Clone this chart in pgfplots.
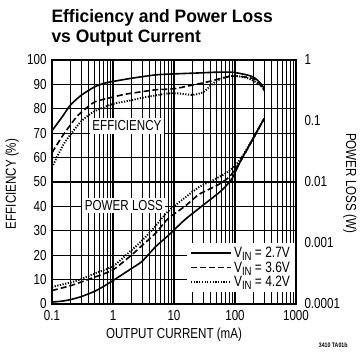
\documentclass[border=0pt]{standalone}
\usepackage{fontspec}
\setmainfont{Liberation Sans}[FakeStretch=0.8]
\newfontfamily\titlefont{Liberation Sans}[FakeStretch=0.97]
\usepackage{pgfplots}
\pgfplotsset{compat=1.18}
\newcommand{\vin}[1]{V\raisebox{-3pt}{\fontsize{12}{12}\selectfont IN} = #1}
\begin{document}
\begin{tikzpicture}
\pgfplotsset{
  solidL/.style={black, line width=1.6pt},
  dashL/.style={black, line width=1.6pt, dash pattern=on 6pt off 3pt},
  dotL/.style={black, line width=1.9pt, dash pattern=on 1.2pt off 1.5pt},
}
\begin{axis}[name=ax, at={(0,0)}, anchor=south west, scale only axis,
  width=244pt, height=244pt,
  xmode=log, xmin=0.1, xmax=1000, ymin=0, ymax=100,
  xtick={0.1,1,10,100,1000}, xticklabels={0.1,1,10,100,1000},
  ytick={0,10,20,30,40,50,60,70,80,90,100},
  yticklabels={0,10,20,30,40,50,60,70,80,90,100},
  xmajorgrids, xminorgrids, ymajorgrids,
  major grid style={black, line width=1.1pt},
  minor grid style={black, line width=1.1pt},
  major tick length=0pt, minor tick length=0pt,
  axis line style={black, line width=1.2pt},
  ticklabel style={font=\fontsize{14.5}{14.5}\selectfont},
  xticklabel style={yshift=-3pt},
  yticklabel style={xshift=-2pt},
]
\addplot[solidL, smooth, tension=0.4] coordinates {(0.1,71)(0.15,77)(0.2,81.5)(0.3,85.5)(0.5,89)(0.75,90.6)(1,91.2)(2,92.5)(5,93.9)(10,94.3)(26,94.7)(50,95)(90,95)(150,94)(200,93)(250,91)(300,88.5)};
\addplot[dashL, smooth, tension=0.4] coordinates {(0.1,62)(0.15,69)(0.24,76)(0.3,78.5)(0.5,82.8)(1,84.8)(1.6,86)(3,87)(5,87.8)(10,88.2)(16,89.2)(35,91)(60,92.5)(92,93.4)(150,93)(200,92.3)(250,90.5)(300,87.5)};
\addplot[dotL, smooth, tension=0.4] coordinates {(0.1,56)(0.16,66)(0.3,74.8)(0.5,79)(1,82)(1.6,83)(3,84.5)(5,85.5)(8,86.3)(12,86.3)(20,85.7)(30,86.8)(47,91)(70,93)(100,93.5)(150,92.8)(200,91.5)(250,90)(300,88)};
\end{axis}
\begin{axis}[at={(0,0)}, anchor=south west, scale only axis,
  width=244pt, height=244pt,
  xmode=log, ymode=log, xmin=0.1, xmax=1000, ymin=1e-4, ymax=1,
  axis x line=none, axis y line*=right,
  ytick={1e-4,1e-3,1e-2,1e-1,1},
  yticklabels={0.0001,0.001,0.01,0.1,1},
  major tick length=0pt, minor tick length=0pt,
  axis line style={black, line width=1.2pt},
  ticklabel style={font=\fontsize{14.5}{14.5}\selectfont},
  yticklabel style={xshift=5pt},
  legend style={at={(rel axis cs:0.553,0.25)}, anchor=north west,
    draw=none, fill=white, inner xsep=3pt, inner ysep=2pt,
    font=\fontsize{15}{15}\selectfont, row sep=-1.5pt,
    nodes={inner sep=2pt}},
  legend cell align=left,
  legend image code/.code={\draw[#1] (0pt,0pt) -- (40pt,0pt);},
]
\addplot[solidL, smooth, tension=0.4] coordinates {(0.1,1.076e-4)(0.15,1.117e-4)(0.2,1.180e-4)(0.3,1.318e-4)(0.5,1.614e-4)(0.7,1.941e-4)(1,2.421e-4)(2,3.802e-4)(3,5.01e-4)(5,8.71e-4)(8,1.318e-3)(15,2.399e-3)(30,4.169e-3)(60,7.244e-3)(90,0.01148)(120,0.02089)(200,0.05248)(300,0.1096)};
\addlegendentry{\vin{2.7V}}
\addplot[dashL, smooth, tension=0.4] coordinates {(0.1,1.660e-4)(0.2,1.995e-4)(0.3,2.291e-4)(0.5,2.754e-4)(1,3.631e-4)(2,6.310e-4)(3,9.120e-4)(5,1.445e-3)(8,2.512e-3)(15,3.981e-3)(26,6.310e-3)(50,8.710e-3)(80,0.01202)(120,0.02089)(200,0.05248)(300,0.1096)};
\addlegendentry{\vin{3.6V}}
\addplot[dotL, smooth, tension=0.4] coordinates {(0.1,1.905e-4)(0.2,2.249e-4)(0.3,2.559e-4)(0.5,3.162e-4)(1,4.169e-4)(2,7.586e-4)(3,1.096e-3)(5,1.905e-3)(8,3.311e-3)(15,5.495e-3)(26,8.318e-3)(50,0.01148)(80,0.01514)(120,0.02291)(200,0.05248)(300,0.1096)};
\addlegendentry{\vin{4.2V}}
\node[fill=white, inner sep=2.5pt, font=\fontsize{14.5}{14.5}\selectfont] at (rel axis cs:0.307,0.73) {EFFICIENCY};
\node[fill=white, inner sep=2.5pt, font=\fontsize{14.5}{14.5}\selectfont] at (rel axis cs:0.295,0.405) {POWER LOSS};
\end{axis}
\node[anchor=base west, font=\titlefont\bfseries\fontsize{18}{18}\selectfont] at ([xshift=-4pt,yshift=37pt]ax.north west) {Efficiency and Power Loss};
\node[anchor=base west, font=\titlefont\bfseries\fontsize{18}{18}\selectfont] at ([xshift=-4pt,yshift=17pt]ax.north west) {vs Output Current};
\node[anchor=base, font=\fontsize{14.5}{14.5}\selectfont] at ([yshift=-35pt]ax.south) {OUTPUT CURRENT (mA)};
\node[rotate=90, font=\fontsize{14.5}{14.5}\selectfont] at ([xshift=-40pt,yshift=-2pt]ax.west) {EFFICIENCY (\%)};
\node[rotate=-90, font=\fontsize{14.5}{14.5}\selectfont] at ([xshift=54pt,yshift=-1pt]ax.east) {POWER LOSS (W)};
\node[anchor=base east, font=\bfseries\fontsize{6.5}{6.5}\selectfont] at ([xshift=55pt,yshift=-44pt]ax.south east) {3410 TA01b};
\pgfresetboundingbox
\path[use as bounding box] ([xshift=-52pt,yshift=-48pt]ax.south west) rectangle ([xshift=64pt,yshift=60pt]ax.north east);
\end{tikzpicture}
\end{document}
